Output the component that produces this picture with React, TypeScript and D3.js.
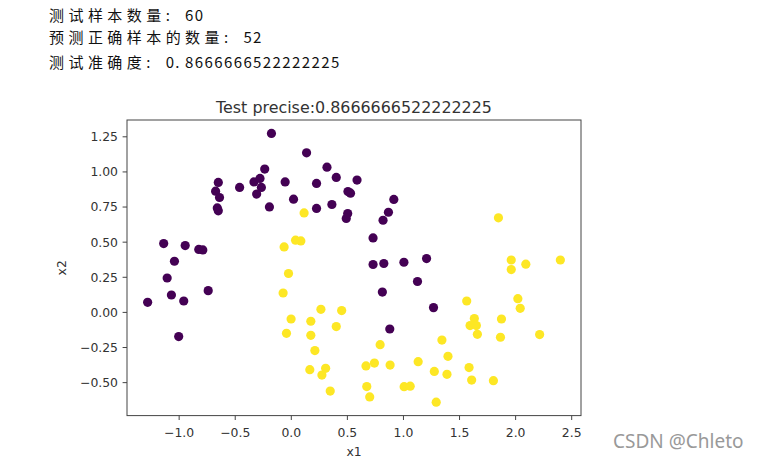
import React from "react";
import * as d3 from "d3";

// Class 0 (purple) points
const class0X = [-0.177, 0.136, -0.237, 0.318, 0.401, 0.586, -0.651, -0.461, -0.333, -0.279, -0.267, -0.309, -0.055, 0.225, -0.675, -0.640, 0.020, -0.195, 0.225, 0.362, 0.505, 0.528, 0.503, 0.490, -0.660, -0.651, -1.138, -0.946, -0.825, -0.789, -1.042, 0.914, 0.866, 0.818, 0.729, 0.729, 0.825, 1.004, 1.206, 1.125, 0.812, 1.268, 0.878, -1.107, -1.069, -0.959, -0.741, -1.281, -1.004];
const class0Y = [1.274, 1.136, 1.020, 1.034, 0.961, 0.942, 0.925, 0.890, 0.929, 0.954, 0.890, 0.842, 0.929, 0.918, 0.863, 0.818, 0.806, 0.751, 0.740, 0.768, 0.860, 0.849, 0.704, 0.669, 0.744, 0.723, 0.490, 0.476, 0.448, 0.445, 0.364, 0.804, 0.713, 0.656, 0.530, 0.341, 0.348, 0.357, 0.383, 0.220, 0.145, 0.034, -0.118, 0.245, 0.124, 0.081, 0.155, 0.072, -0.172];

// Class 1 (yellow) points
const class1X = [0.114, -0.064, 0.038, 0.085, -0.025, -0.073, -0.002, -0.043, 0.174, 0.264, 0.449, 0.401, 0.174, 0.210, 0.165, 0.306, 0.273, 0.347, 0.666, 0.673, 0.699, 1.847, 1.961, 1.961, 2.091, 2.399, 1.564, 2.020, 2.041, 1.632, 1.594, 1.650, 1.659, 1.874, 1.865, 2.214, 1.343, 1.397, 0.792, 0.741, 0.881, 1.131, 1.275, 1.388, 1.585, 1.608, 1.802, 1.006, 1.060, 1.292];
const class1Y = [0.708, 0.466, 0.514, 0.509, 0.277, 0.138, -0.047, -0.149, -0.063, 0.022, 0.013, -0.101, -0.163, -0.272, -0.408, -0.398, -0.446, -0.560, -0.381, -0.528, -0.602, 0.673, 0.373, 0.305, 0.343, 0.373, 0.081, 0.098, 0.029, -0.044, -0.094, -0.094, -0.156, -0.047, -0.177, -0.158, -0.197, -0.313, -0.230, -0.361, -0.375, -0.351, -0.420, -0.441, -0.393, -0.482, -0.486, -0.529, -0.525, -0.639];

const xTicks = [-1.0, -0.5, 0.0, 0.5, 1.0, 1.5, 2.0, 2.5];
const yTicks = [-0.5, -0.25, 0.0, 0.25, 0.5, 0.75, 1.0, 1.25];

const infoLines = [
  "测试样本数量: 60",
  "预测正确样本的数量: 52",
  "测试准确度: 0.8666666522222225",
];
const titleText = "Test precise:0.8666666522222225";
const xLabel = "x1";
const yLabel = "x2";
const watermark = "CSDN @Chleto";

const W = 758;
const H = 460;
const plot = { left: 127, right: 581, top: 120, bottom: 415.6 };

function withMargin(vals: number[]): [number, number] {
  const [mn, mx] = d3.extent(vals) as [number, number];
  const m = (mx - mn) * 0.05;
  return [mn - m, mx + m];
}

function charXs(text: string, x0: number, col: number): string {
  const xs: number[] = [];
  let x = x0;
  for (const ch of Array.from(text)) {
    xs.push(x);
    const code = ch.codePointAt(0) || 0;
    x += code > 0x2e80 ? col * 2 : col;
  }
  return xs.map((v) => v.toFixed(2)).join(" ");
}

export default function App() {
  const x = d3
    .scaleLinear()
    .domain(withMargin([...class0X, ...class1X]))
    .range([plot.left, plot.right]);
  const y = d3
    .scaleLinear()
    .domain(withMargin([...class0Y, ...class1Y]))
    .range([plot.bottom, plot.top]);
  const fx = d3.format(".1f");
  const fy = d3.format(".2f");
  const tickFont = "'DejaVu Sans', sans-serif";
  const textColor = "#333";
  const r = 4.6;
  const baselines = [20.5, 42.5, 68];

  return (
    <div style={{ position: "absolute", left: 0, top: 0, width: W, height: H, background: "#fff" }}>
      <svg width={W} height={H} viewBox={`0 0 ${W} ${H}`}>
        <rect x={0} y={0} width={W} height={H} fill="#fff" />
        {infoLines.map((t, i) => (
          <text
            key={i}
            x={charXs(t, 49, 9.72)}
            y={baselines[i]}
            fontFamily="'Noto Sans CJK SC', sans-serif"
            fontSize={15}
            fill="#111"
          >
            {t}
          </text>
        ))}
        <text
          x={(plot.left + plot.right) / 2}
          y={113}
          textAnchor="middle"
          fontFamily={tickFont}
          fontSize={15.9}
          fill={textColor}
        >
          {titleText}
        </text>
        {class0X.map((v, i) => (
          <circle key={"a" + i} cx={x(v)} cy={y(class0Y[i])} r={r} fill="#440154" />
        ))}
        {class1X.map((v, i) => (
          <circle key={"b" + i} cx={x(v)} cy={y(class1Y[i])} r={r} fill="#fde725" />
        ))}
        <rect
          x={plot.left}
          y={plot.top}
          width={plot.right - plot.left}
          height={plot.bottom - plot.top}
          fill="none"
          stroke="#444"
          strokeWidth={1}
        />
        {xTicks.map((t) => (
          <g key={"xt" + t}>
            <line x1={x(t)} x2={x(t)} y1={plot.bottom} y2={plot.bottom + 4.4} stroke="#444" strokeWidth={1} />
            <text
              x={x(t)}
              y={plot.bottom + 21}
              textAnchor="middle"
              fontFamily={tickFont}
              fontSize={12.4}
              fill={textColor}
            >
              {fx(t)}
            </text>
          </g>
        ))}
        {yTicks.map((t) => (
          <g key={"yt" + t}>
            <line x1={plot.left - 4.4} x2={plot.left} y1={y(t)} y2={y(t)} stroke="#444" strokeWidth={1} />
            <text
              x={plot.left - 9}
              y={y(t) + 4.4}
              textAnchor="end"
              fontFamily={tickFont}
              fontSize={12.4}
              fill={textColor}
            >
              {fy(t)}
            </text>
          </g>
        ))}
        <text
          x={(plot.left + plot.right) / 2}
          y={456}
          textAnchor="middle"
          fontFamily={tickFont}
          fontSize={12.4}
          fill={textColor}
        >
          {xLabel}
        </text>
        <text
          transform={`translate(66, ${(plot.top + plot.bottom) / 2}) rotate(-90)`}
          textAnchor="middle"
          fontFamily={tickFont}
          fontSize={12.4}
          fill={textColor}
        >
          {yLabel}
        </text>
        <text x={613} y={448} fontFamily="'Noto Sans', sans-serif" fontSize={19} fill="#999">
          {watermark}
        </text>
      </svg>
    </div>
  );
}
